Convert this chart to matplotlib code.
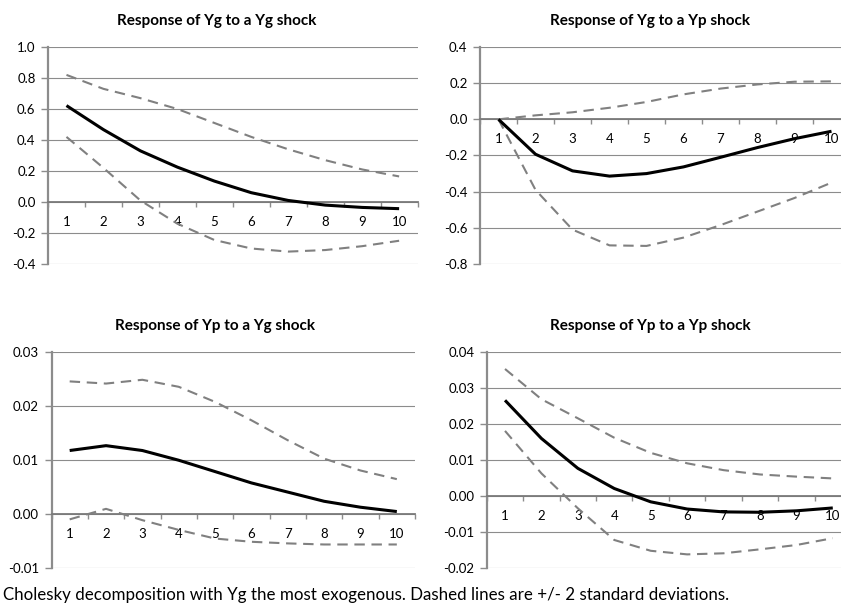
import matplotlib
matplotlib.use("Agg")
import matplotlib.pyplot as plt
import numpy as np

plt.rcParams['font.family'] = ['Lato', 'DejaVu Sans']

periods = [1, 2, 3, 4, 5, 6, 7, 8, 9, 10]

titles = ["Response of Yg to a Yg shock", "Response of Yg to a Yp shock",
          "Response of Yp to a Yg shock", "Response of Yp to a Yp shock"]

# Response of Yg to a Yg shock
yg_yg = [0.622, 0.467, 0.33, 0.225, 0.135, 0.06, 0.01, -0.02, -0.035, -0.043]
yg_yg_hi = [0.82, 0.73, 0.67, 0.60, 0.51, 0.42, 0.34, 0.27, 0.21, 0.165]
yg_yg_lo = [0.42, 0.22, 0.01, -0.14, -0.245, -0.30, -0.32, -0.31, -0.285, -0.25]

# Response of Yg to a Yp shock
yg_yp = [0.0, -0.193, -0.285, -0.314, -0.30, -0.263, -0.21, -0.156, -0.107, -0.066]
yg_yp_hi = [0.0, 0.022, 0.039, 0.064, 0.096, 0.138, 0.17, 0.193, 0.208, 0.21]
yg_yp_lo = [0.0, -0.39, -0.61, -0.697, -0.70, -0.654, -0.585, -0.51, -0.435, -0.35]

# Response of Yp to a Yg shock
yp_yg = [0.0117, 0.0126, 0.0117, 0.0099, 0.0078, 0.0057, 0.0040, 0.0023, 0.0012, 0.0004]
yp_yg_hi = [0.0245, 0.0241, 0.0248, 0.0235, 0.0207, 0.0173, 0.0136, 0.0102, 0.0080, 0.0064]
yp_yg_lo = [-0.00105, 0.0009, -0.0012, -0.0030, -0.0046, -0.0052, -0.0055, -0.0057, -0.0057, -0.0057]

# Response of Yp to a Yp shock
yp_yp = [0.0265, 0.0159, 0.0076, 0.0020, -0.0017, -0.0037, -0.0045, -0.0046, -0.0042, -0.0034]
yp_yp_hi = [0.0352, 0.0268, 0.0215, 0.0161, 0.0119, 0.0090, 0.0071, 0.0059, 0.0053, 0.0048]
yp_yp_lo = [0.018, 0.0062, -0.0035, -0.0123, -0.0153, -0.0163, -0.016, -0.0149, -0.0137, -0.0118]

series = [(yg_yg, yg_yg_hi, yg_yg_lo), (yg_yp, yg_yp_hi, yg_yp_lo),
          (yp_yg, yp_yg_hi, yp_yg_lo), (yp_yp, yp_yp_hi, yp_yp_lo)]

yticks = [np.arange(-0.4, 1.01, 0.2), np.arange(-0.8, 0.41, 0.2),
          np.arange(-0.01, 0.031, 0.01), np.arange(-0.02, 0.041, 0.01)]
yfmt = ["{:.1f}", "{:.1f}", "{:.2f}", "{:.2f}"]

W, H = 841, 605
fig = plt.figure(figsize=(W / 100, H / 100), dpi=100)

# pixel boxes: left, right, top, bottom
boxes = [(48, 417.6, 47, 264), (480, 850, 47, 264),
         (51.5, 415, 351.7, 567.7), (486.8, 851, 351.7, 567.7)]
title_cx = [217, 650, 215, 650]

GRID = "#8c8c8c"
for i, (l, r, t, b) in enumerate(boxes):
    ax = fig.add_axes([l / W, 1 - b / H, (r - l) / W, (b - t) / H])
    ax.set_facecolor("none")
    mid, hi, lo = series[i]
    ax.plot(periods, hi, color="#808080", lw=1.5, dashes=(5, 3.2), zorder=3)
    ax.plot(periods, lo, color="#808080", lw=1.5, dashes=(5, 3.2), zorder=3)
    ax.plot(periods, mid, color="black", lw=2.2, zorder=4, solid_capstyle="butt")
    ax.set_xlim(0.5, 10.5)
    yt = yticks[i]
    ax.set_ylim(yt[0], yt[-1])
    ax.set_yticks(yt)
    ax.set_yticklabels([yfmt[i].format(v) if abs(v) > 1e-9 else yfmt[i].format(0.0) for v in yt])
    ax.yaxis.grid(True, color=GRID, lw=0.8)
    ax.set_axisbelow(True)
    for s in ["top", "right"]:
        ax.spines[s].set_visible(False)
    ax.spines["left"].set_color(GRID)
    ax.spines["left"].set_linewidth(1.6)
    ax.spines["bottom"].set_position(("data", 0))
    ax.spines["bottom"].set_color("#7a7a7a")
    ax.spines["bottom"].set_linewidth(1.3)
    ax.set_xticks(periods)
    ax.set_xticklabels([str(p) for p in periods])
    ax.set_xticks(np.arange(0.5, 10.6, 1.0), minor=True)
    ax.tick_params(axis="x", which="major", length=0, pad=10, labelsize=9.5, labelcolor="black")
    ax.tick_params(axis="x", which="minor", length=3.5, width=1, color=GRID, direction="out")
    ax.tick_params(axis="y", length=5, width=1, color=GRID, direction="out", labelsize=9.5, pad=4)
    ax.set_title(titles[i], fontsize=11, fontweight="bold", pad=15.5,
                 x=(title_cx[i] - l) / (r - l))

fig.text(3 / W, 1 - 595 / H, "Cholesky decomposition with Yg the most exogenous. Dashed lines are +/- 2 standard deviations.",
         fontsize=12.2, va="center", ha="left")

fig.savefig("out.png", dpi=100)
